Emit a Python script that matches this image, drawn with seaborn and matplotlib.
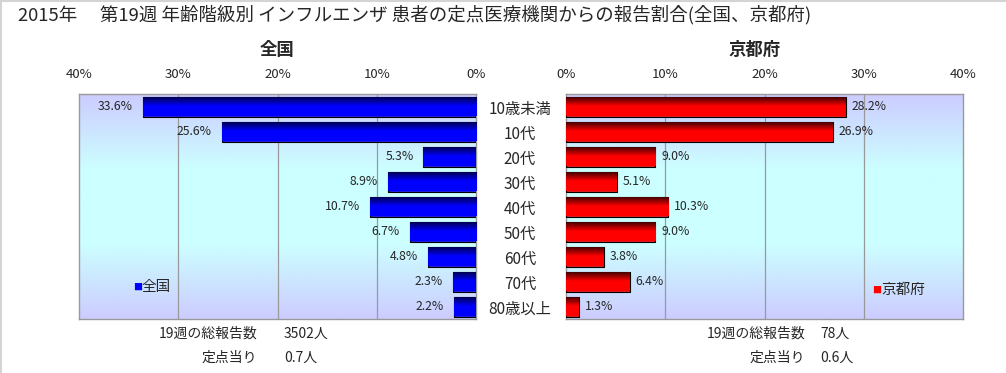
import numpy as np
import pandas as pd
import matplotlib
matplotlib.use("Agg")
import matplotlib.pyplot as plt
import seaborn as sns
from matplotlib.colors import LinearSegmentedColormap
from matplotlib.lines import Line2D
from matplotlib.transforms import blended_transform_factory

sns.set_theme(style="white")
plt.rcParams["font.family"] = ["Noto Sans CJK JP", "DejaVu Sans"]

# data
age_groups = ["10歳未満", "10代", "20代", "30代", "40代", "50代", "60代", "70代", "80歳以上"]
zenkoku = [33.6, 25.6, 5.3, 8.9, 10.7, 6.7, 4.8, 2.3, 2.2]
kyoto = [28.2, 26.9, 9.0, 5.1, 10.3, 9.0, 3.8, 6.4, 1.3]
ticks = [0, 10, 20, 30, 40]
title = "2015年　 第19週 年齢階級別 インフルエンザ 患者の定点医療機関からの報告割合(全国、京都府)"
week_label = "19週の総報告数"
per_label = "定点当り"
zenkoku_total, zenkoku_per = "3502人", "0.7人"
kyoto_total, kyoto_per = "78人", "0.6人"

df = pd.DataFrame({"age": age_groups, "全国": zenkoku, "京都府": kyoto})

W, H = 1006, 373
fig = plt.figure(figsize=(W / 100, H / 100), dpi=100)
fig.patch.set_facecolor("white")
fig.add_artist(Line2D([0, 1], [1 - 1 / H, 1 - 1 / H], color="#d4d4d4", lw=1.5))
fig.add_artist(Line2D([0.5 / W, 0.5 / W], [0, 1], color="#d4d4d4", lw=1.5))

def px_axes(x0, y0, x1, y1):
    return fig.add_axes([x0 / W, 1 - y1 / H, (x1 - x0) / W, (y1 - y0) / H])

ax_l = px_axes(79, 94, 476, 319)
ax_r = px_axes(566, 94, 963, 319)

bg = LinearSegmentedColormap.from_list("bg", ["#ccccff", "#ccffff", "#ccffff", "#ccccff"])

def bar_panel(ax, col, color, dark, invert):
    sns.barplot(data=df, y="age", x=col, color=color, orient="h", width=0.8,
                edgecolor="black", linewidth=0.8, ax=ax, zorder=3)
    # lavender -> cyan -> lavender plot background
    ax.imshow(np.linspace(0, 1, 256).reshape(-1, 1), cmap=bg, aspect="auto",
              extent=[0, 1, 0, 1], transform=ax.transAxes, zorder=0)
    # dark-to-bright shading inside each bar
    grad = LinearSegmentedColormap.from_list("g", [dark, color, color])
    for p in ax.patches:
        x0, y0 = p.get_x(), p.get_y()
        w, h = p.get_width(), p.get_height()
        im = ax.imshow(np.linspace(0, 1, 64).reshape(-1, 1), cmap=grad, aspect="auto",
                       extent=[x0, x0 + w, y0 + h, y0], zorder=3.5, interpolation="bilinear")
        im.set_clip_path(p)
    if invert:
        ax.set_xlim(40, 0)
    else:
        ax.set_xlim(0, 40)
    ax.set_ylim(len(age_groups) - 0.5, -0.5)
    ax.set_xticks(ticks)
    ax.set_xticklabels([f"{t}%" for t in ticks], fontsize=9.5)
    ax.xaxis.tick_top()
    ax.tick_params(axis="x", length=0, pad=9)
    ax.set_yticks([])
    ax.set_xlabel("")
    ax.set_ylabel("")
    for t in ticks[1:-1]:
        ax.axvline(t, color="#999999", lw=0.9, zorder=1)
    for s in ax.spines.values():
        s.set_color("#999999")
        s.set_linewidth(1.0)
    for i, v in enumerate(df[col]):
        if invert:
            ax.text(v + 1.0, i, f"{v:.1f}%", ha="right", va="center", fontsize=8.8, zorder=5)
        else:
            ax.text(v + 0.6, i, f"{v:.1f}%", ha="left", va="center", fontsize=8.8, zorder=5)

bar_panel(ax_l, "全国", "#0000ff", "#000040", True)
bar_panel(ax_r, "京都府", "#ff0000", "#300000", False)

# category labels between the panels
tr = blended_transform_factory(fig.transFigure, ax_r.transData)
for i, a in enumerate(age_groups):
    ax_r.text(520 / W, i + 0.12, a, transform=tr, ha="center", va="center",
              fontsize=11, clip_on=False)

# legends
ax_l.text(0.136, 0.142, "■", transform=ax_l.transAxes, color="#0000ff", fontsize=6.5,
          va="center", ha="left")
ax_l.text(0.158, 0.142, "全国", transform=ax_l.transAxes, fontsize=10.5, va="center", ha="left")
ax_r.text(0.772, 0.129, "■", transform=ax_r.transAxes, color="#ff0000", fontsize=6.5,
          va="center", ha="left")
ax_r.text(0.794, 0.129, "京都府", transform=ax_r.transAxes, fontsize=10.5, va="center", ha="left")

# titles
fig.text(18 / W, 1 - 15 / H, title, fontsize=13.3, ha="left", va="center")
fig.text(277 / W, 1 - 50 / H, "全国", fontsize=12.5, fontweight="bold", ha="center", va="center")
fig.text(755 / W, 1 - 50 / H, "京都府", fontsize=12.5, fontweight="bold", ha="center", va="center")

# bottom notes
for x_lab, x_val, total, per in [(257, 284, zenkoku_total, zenkoku_per),
                                 (805, 820, kyoto_total, kyoto_per)]:
    fig.text(x_lab / W, 1 - 334 / H, week_label, fontsize=10, ha="right", va="center")
    fig.text(x_val / W, 1 - 334 / H, total, fontsize=10, ha="left", va="center")
    fig.text(x_lab / W, 1 - 358 / H, per_label, fontsize=10, ha="right", va="center")
    fig.text(x_val / W, 1 - 358 / H, per, fontsize=10, ha="left", va="center")

fig.savefig("out.png", dpi=100)
